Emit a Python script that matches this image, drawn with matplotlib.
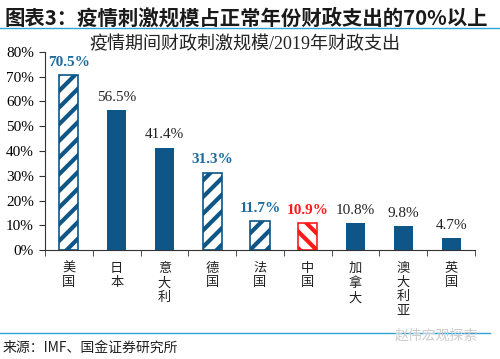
import numpy as np
import matplotlib
matplotlib.use("Agg")
import matplotlib.pyplot as plt
from matplotlib.lines import Line2D

plt.rcParams["font.family"] = ["Liberation Serif", "Noto Sans CJK SC", "DejaVu Sans"]
plt.rcParams["hatch.linewidth"] = 3.0

# data
countries = ["美国", "日本", "意大利", "德国", "法国", "中国", "加拿大", "澳大利亚", "英国"]
values = [70.5, 56.5, 41.4, 31.3, 11.7, 10.9, 10.8, 9.8, 4.7]
hatched = [True, False, False, True, True, True, False, False, False]
highlight = ["blue", None, None, "blue", "blue", "red", None, None, None]

blue = "#0D5687"
label_blue = "#1B6A9E"
red = "#FF1A1A"

fig = plt.figure(figsize=(5.0, 3.59), dpi=100)
ax = fig.add_axes([0.09, 0.3036, 0.86, 0.5516])

x = np.arange(len(countries))
for i, (v, h, hl) in enumerate(zip(values, hatched, highlight)):
    if h:
        c = red if hl == "red" else blue
        pat = "\\\\" if hl == "red" else "//"
        ax.bar(x[i], v / 100, width=0.4, color="white", edgecolor=c,
               hatch=pat, linewidth=1.2)
    else:
        ax.bar(x[i], v / 100, width=0.4, color=blue, edgecolor=blue, linewidth=0)
    if hl == "blue":
        tc, fw = label_blue, "bold"
    elif hl == "red":
        tc, fw = red, "bold"
    else:
        tc, fw = "#222222", "normal"
    ax.text(x[i], v / 100 + 0.025, f"{v}%", ha="center", va="bottom",
            color=tc, fontweight=fw, fontsize=11)

ax.set_xlim(-0.5, len(countries) - 0.5)
ax.set_ylim(0, 0.8)
ax.set_yticks(np.arange(0, 0.81, 0.1))
ax.set_yticklabels([f"{int(round(t * 100))}%" for t in np.arange(0, 0.81, 0.1)],
                   fontsize=11)
ax.set_xticks(x)
ax.set_xticklabels(["\n".join(c) for c in countries], fontsize=9.5,
                   linespacing=1.25, va="top", color="#222222")
ax.set_xticks(np.arange(-0.5, len(countries), 1), minor=True)
ax.tick_params(axis="x", which="major", length=0, pad=9)
ax.tick_params(axis="x", which="minor", length=4, direction="out", color="#333333")
ax.tick_params(axis="y", length=4, direction="out", color="#333333", pad=4)
for s in ["top", "right"]:
    ax.spines[s].set_visible(False)
ax.spines["left"].set_color("#333333")
ax.spines["bottom"].set_color("#333333")

fig.text(0.49, 0.875, "疫情期间财政刺激规模/2019年财政支出", ha="center", va="center",
         fontsize=13, color="#222222")

fig.text(0.01, 0.95, "图表3：疫情刺激规模占正常年份财政支出的70%以上", ha="left", va="center",
         fontsize=14.7, fontweight="bold", color="#1a1a1a",
         family=["Noto Sans CJK SC", "DejaVu Sans"])

fig.add_artist(Line2D([0.0, 1.0], [0.922, 0.922], color="#2EA3D6", linewidth=1.0,
                      transform=fig.transFigure))
fig.add_artist(Line2D([0.0, 0.98], [0.072, 0.072], color="#2EA3D6", linewidth=1.0,
                      transform=fig.transFigure))

fig.text(0.006, 0.03, "来源：IMF、国金证券研究所", ha="left", va="center", fontsize=10,
         color="#222222", family=["Noto Sans CJK SC", "DejaVu Sans"])
fig.text(0.79, 0.065, "赵伟宏观探索", ha="left", va="center", fontsize=10,
         color="#cccccc", family=["Noto Sans CJK SC", "DejaVu Sans"])

fig.savefig("out.png", dpi=100)
